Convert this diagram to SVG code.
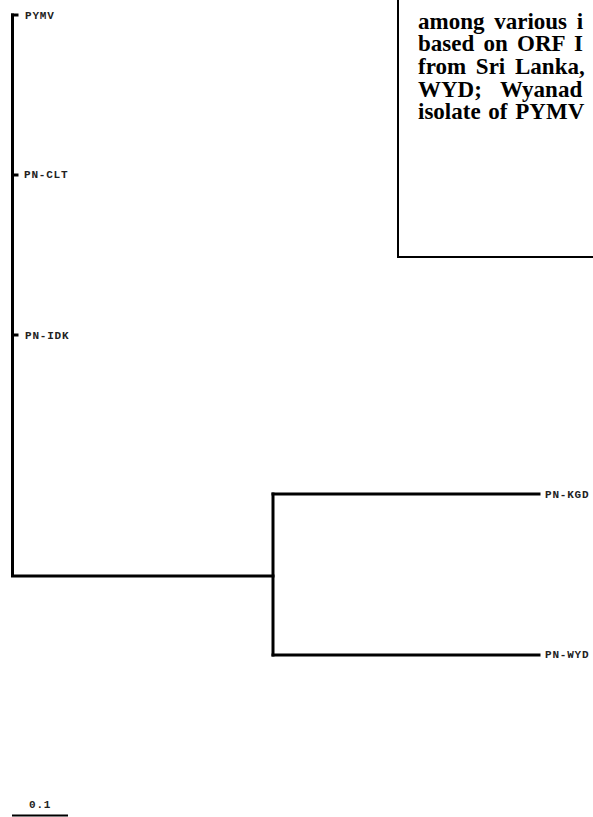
<svg xmlns="http://www.w3.org/2000/svg" width="593" height="817" viewBox="0 0 593 817">
<style>
.br{stroke:#000;stroke-width:3;fill:none;stroke-linecap:square}
.lbl{font-family:"Liberation Mono","Courier New",monospace;font-weight:bold;font-size:11px;letter-spacing:0.8px;fill:#222}
.cap{font-family:"Liberation Serif","Times New Roman",serif;font-weight:bold;font-size:23px;fill:#000}
</style>
<rect width="593" height="817" fill="#fff"/>
<g id="connectors">
<path class="br" d="M12.5,15 V576 H273"/>
<path class="br" d="M12.5,15 H17"/>
<path class="br" d="M12.5,175 H17"/>
<path class="br" d="M12.5,335 H17"/>
<path class="br" d="M273,494 V655"/>
<path class="br" d="M273,494 H539"/>
<path class="br" d="M273,655 H539"/>
</g>
<g id="PYMV"><text class="lbl" x="25" y="18.5">PYMV</text></g>
<g id="PN-CLT"><text class="lbl" x="24" y="178">PN-CLT</text></g>
<g id="PN-IDK"><text class="lbl" x="25" y="338.5">PN-IDK</text></g>
<g id="PN-KGD"><text class="lbl" x="545" y="498">PN-KGD</text></g>
<g id="PN-WYD"><text class="lbl" x="545" y="658">PN-WYD</text></g>
<g id="scale">
<text class="lbl" x="29" y="808">0.1</text>
<line x1="12" y1="815.5" x2="68" y2="815.5" stroke="#000" stroke-width="2"/>
</g>
<g id="caption">
<rect x="398" y="-5" width="210" height="262" fill="none" stroke="#000" stroke-width="2"/>
<text class="cap" x="418" y="28.5" word-spacing="4">among various i</text>
<text class="cap" x="418" y="51.2" word-spacing="3.5">based on ORF I</text>
<text class="cap" x="418" y="73.9" word-spacing="4">from Sri Lanka,</text>
<text class="cap" x="418" y="96.6" word-spacing="3.5" xml:space="preserve">WYD;  Wyanad</text>
<text class="cap" x="418" y="119.3" word-spacing="2">isolate of PYMV</text>
</g>
</svg>
